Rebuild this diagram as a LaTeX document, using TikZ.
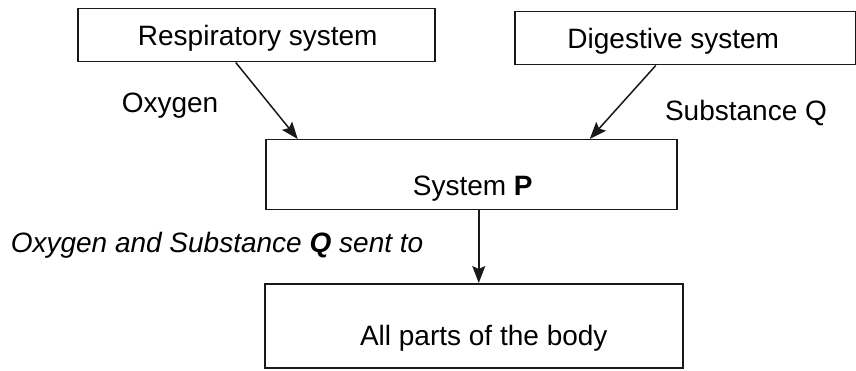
\documentclass[tikz,border=0pt]{standalone}
\usepackage{fontspec}
\setmainfont{Liberation Sans}
\usetikzlibrary{arrows.meta}
\begin{document}
\begin{tikzpicture}[x=1pt,y=-1pt,
  box/.style={draw=black!90, line width=1.5pt, inner sep=0pt, anchor=north west},
  txt/.style={inner sep=0pt, font=\fontsize{28}{31}\selectfont, text=black},
  arr/.style={draw=black!90, line width=1.5pt, -{Stealth[length=17pt,width=13pt,inset=3pt]}}]
\useasboundingbox (0,0) rectangle (856,371);
\fill[white] (0,0) rectangle (856,371);
% boxes
\node[box, minimum width=357pt, minimum height=53pt] (resp) at (77,8) {};
\node[box, minimum width=341pt, minimum height=53pt] (dig) at (514,11) {};
\node[box, minimum width=411pt, minimum height=70pt] (sysp) at (265,139) {};
\node[box, minimum width=418pt, minimum height=84pt] (body) at (264,283) {};
% box texts
\node[txt] (resptxt) at ([xshift=1.5pt,yshift=-3.5pt]resp.center) {Respiratory system};
\node[txt] (digtxt) at ([xshift=-12pt,yshift=-3.5pt]dig.center) {Digestive system};
\node[txt] (sysptxt) at ([xshift=1.5pt,yshift=-14pt]sysp.center) {System \textbf{P}};
\node[txt] (bodytxt) at ([xshift=10pt,yshift=-13pt]body.center) {All parts of the body};
% labels
\node[txt] (oxy) at (170,106) {Oxygen};
\node[txt] (subq) at (746,113) {Substance Q};
\node[txt, font=\fontsize{28}{31}\selectfont\itshape] (sent) at (217,245) {Oxygen and Substance \textbf{Q} sent to};
% connectors
\draw[arr] ([xshift=-20.5pt]resp.south) -- ([xshift=-173.5pt]sysp.north);
\draw[arr] ([xshift=-29.5pt]dig.south) -- ([xshift=118.5pt]sysp.north);
\draw[arr] ([xshift=7.5pt]sysp.south) -- ([xshift=7.5pt]sysp.south |- body.north);
\end{tikzpicture}
\end{document}
